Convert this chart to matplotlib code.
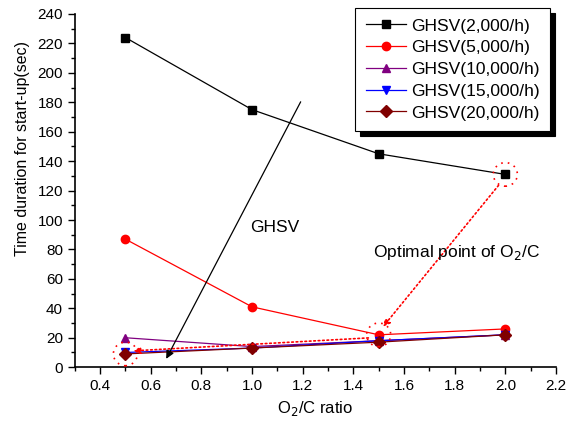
import numpy as np
import matplotlib
matplotlib.use('Agg')
import matplotlib.pyplot as plt
from matplotlib.patches import Ellipse
from matplotlib.ticker import MultipleLocator

plt.rcParams['font.family'] = ['Liberation Sans', 'DejaVu Sans']

o2c = [0.5, 1.0, 1.5, 2.0]
ghsv_2000 = [224, 175, 145, 131]
ghsv_5000 = [87, 41, 22, 26]
ghsv_10000 = [20, 14, 18, 22]
ghsv_15000 = [10, 13, 18, 22]
ghsv_20000 = [9, 13, 17, 22]
labels = ['GHSV(2,000/h)', 'GHSV(5,000/h)', 'GHSV(10,000/h)',
          'GHSV(15,000/h)', 'GHSV(20,000/h)']

# optimal points (circled) and the dotted path between them
opt_x = [0.5, 1.5, 2.0]
opt_y = [9, 22, 131]

fig = plt.figure(figsize=(5.75, 4.24), dpi=100)
ax = fig.add_axes([0.130, 0.134, 0.837, 0.833])

series = [ghsv_2000, ghsv_5000, ghsv_10000, ghsv_15000, ghsv_20000]
colors = ['black', 'red', '#800080', 'blue', '#800000']
markers = ['s', 'o', '^', 'v', 'D']
for vals, c, m, lab in zip(series, colors, markers, labels):
    ax.plot(o2c, vals, color=c, marker=m, markersize=6, linewidth=0.9, label=lab)

# dotted circles round the optimal points
for x, y in zip(opt_x, opt_y):
    ax.add_patch(Ellipse((x, y), 0.095, 16, fill=False, edgecolor='red',
                         linestyle=(0, (1, 3)), linewidth=1.2, zorder=5))

# dotted arrows: 2.0 -> 1.5 -> 0.5
ax.annotate('', xy=(opt_x[1] + 0.01, opt_y[1] + 4), xytext=(opt_x[2] - 0.02, opt_y[2] - 6),
            arrowprops=dict(arrowstyle='-|>', color='red', linestyle=':', lw=1.2,
                            mutation_scale=10))
ax.annotate('', xy=(opt_x[0] + 0.02, opt_y[0] + 2), xytext=(opt_x[1] - 0.03, opt_y[1] - 2),
            arrowprops=dict(arrowstyle='-|>', color='red', linestyle=':', lw=1.2,
                            mutation_scale=10))

# GHSV arrow
ax.annotate('', xy=(0.656, 4), xytext=(1.197, 182),
            arrowprops=dict(arrowstyle='-|>', color='black', lw=0.9, mutation_scale=12))
ax.text(1.09, 95, 'GHSV', fontsize=12.5, ha='center', va='center')
ax.text(1.478, 78, 'Optimal point of O$_2$/C', fontsize=12.5, ha='left', va='center')

ax.set_xlim(0.3, 2.2)
ax.set_ylim(0, 240)
ax.xaxis.set_minor_locator(MultipleLocator(0.1))
ax.yaxis.set_major_locator(MultipleLocator(20))
ax.yaxis.set_minor_locator(MultipleLocator(10))
ax.set_xticks(np.arange(0.4, 2.21, 0.2))
ax.tick_params(which='major', length=5, width=1, labelsize=11, direction='out')
ax.tick_params(which='minor', length=3, width=1, direction='out')
for s in ['top', 'right']:
    ax.spines[s].set_visible(False)
for s in ['left', 'bottom']:
    ax.spines[s].set_linewidth(1.2)

ax.set_xlabel('O$_2$/C ratio', fontsize=12)
ax.set_ylabel('Time duration for start-up(sec)', fontsize=11.5)
ax.yaxis.set_label_coords(-0.092, 0.62)

leg = ax.legend(loc='upper right', bbox_to_anchor=(0.9875, 1.017), fancybox=False,
                edgecolor='black', fontsize=12.5, handlelength=2.3, handletextpad=0.3,
                labelspacing=0.38, borderpad=0.6, borderaxespad=0,
                shadow={'color': 'black', 'alpha': 1, 'ox': 3.6, 'oy': -3.6})
leg.get_frame().set_linewidth(0.8)
leg.get_frame().set_alpha(1)

plt.savefig('out.png', dpi=100)
